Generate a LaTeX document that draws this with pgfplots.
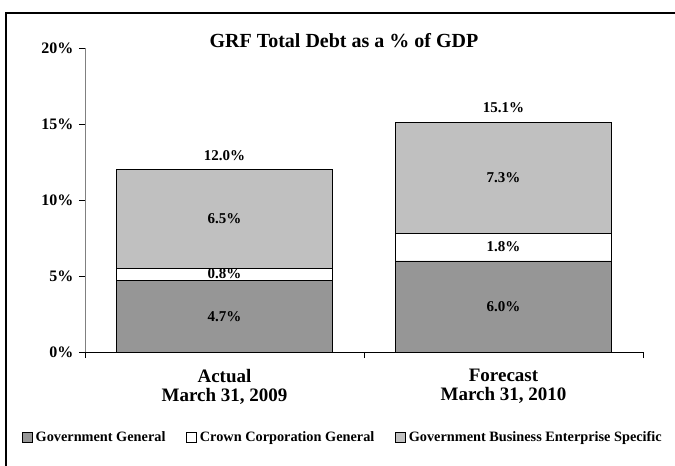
\documentclass[border=0pt]{standalone}
\usepackage{pgfplots}
\usepackage{pgfplotstable}
\pgfplotsset{compat=1.18}
\usepackage{fontspec}
\setmainfont{Liberation Serif}
\definecolor{dg}{HTML}{969696}
\definecolor{lg}{HTML}{C0C0C0}
\definecolor{axgray}{HTML}{808080}
\pgfplotstableread{
x gg cc gbe
0 4.7 0.8 6.5
1 6.0 1.8 7.3
}\debttable
\begin{document}
\begin{tikzpicture}
\path[use as bounding box] (0pt,0pt) rectangle (675pt,466pt);
\draw[line width=2pt] (6pt,0pt) -- (6pt,453pt) -- (676pt,453pt);
\begin{axis}[at={(85pt,114pt)}, anchor=south west, scale only axis,
  width=558pt, height=304pt,
  xmin=-0.5, xmax=1.5, ymin=0, ymax=20,
  ybar stacked, bar width=216pt,
  axis x line=bottom, axis y line=left,
  x axis line style={-, black},
  y axis line style={-, axgray},
  tick align=outside, major tick length=6pt,
  xtick={-0.5,0.5,1.5}, xticklabels={},
  x tick style={black},
  extra x ticks={0,1},
  extra x tick labels={{{\bfseries Actual}\\{\bfseries March 31, 2009}},{{\bfseries Forecast}\\{\bfseries March 31, 2010}}},
  extra x tick style={major tick length=0pt, tick label style={align=center, font=\bfseries\fontsize{19}{19}\selectfont, yshift=-14pt}},
  ytick={0,5,10,15,20},
  yticklabels={0\%,5\%,10\%,15\%,20\%},
  y tick style={black},
  yticklabel style={font=\bfseries\fontsize{16}{18}\selectfont, xshift=-2pt},
  /pgf/number format/assume math mode=true,
  title={GRF Total Debt as a \% of GDP},
  title style={at={(0.464,1.003)}, anchor=center, font=\bfseries\fontsize{20}{22}\selectfont},
  legend style={at={(0.4615,-0.2796)}, anchor=center, draw=none, legend columns=3,
    font=\bfseries\fontsize{14.3}{16}\selectfont,
    nodes={inner sep=1.5pt},
    /tikz/every odd column/.append style={column sep=2pt},
    /tikz/every even column/.append style={column sep=19pt}},
  legend image code/.code={\draw[#1, draw=black] (0pt,-5pt) rectangle (10pt,5pt);},
  clip=false,
]
\addplot[fill=dg, draw=black] table[x=x, y=gg] {\debttable};
\addplot[fill=white, draw=black] table[x=x, y=cc] {\debttable};
\addplot[fill=lg, draw=black] table[x=x, y=gbe] {\debttable};
\legend{Government General, Crown Corporation General, Government Business Enterprise Specific}
\coordinate (a1) at (axis cs:0,2.35);
\coordinate (a2) at (axis cs:0,5.15);
\coordinate (a3) at (axis cs:0,8.75);
\coordinate (a4) at (axis cs:0,12.95);
\coordinate (b1) at (axis cs:1,3.0);
\coordinate (b2) at (axis cs:1,6.9);
\coordinate (b3) at (axis cs:1,11.45);
\coordinate (b4) at (axis cs:1,16.05);
\end{axis}
\begin{scope}[every node/.style={font=\bfseries\fontsize{15}{17}\selectfont}]
\node at (a1) {4.7\%};
\node at (a2) {0.8\%};
\node at (a3) {6.5\%};
\node at (a4) {12.0\%};
\node at (b1) {6.0\%};
\node at (b2) {1.8\%};
\node at (b3) {7.3\%};
\node at (b4) {15.1\%};
\end{scope}
\end{tikzpicture}
\end{document}
